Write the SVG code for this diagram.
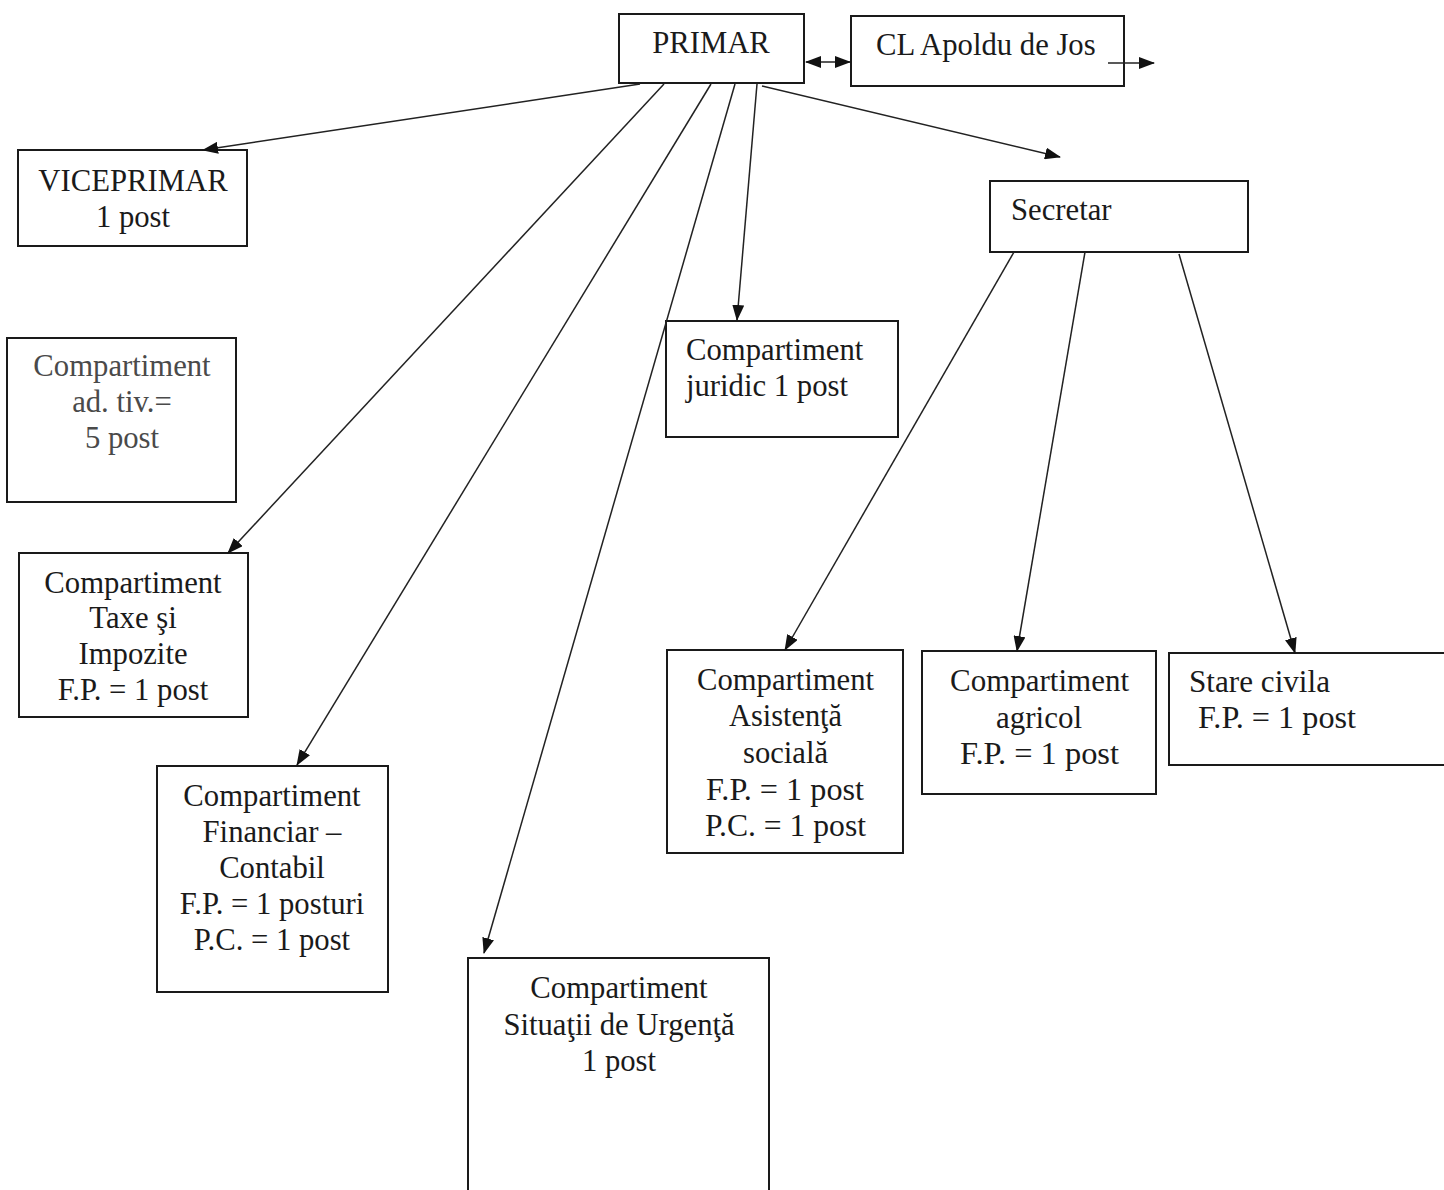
<svg xmlns="http://www.w3.org/2000/svg" width="1444" height="1190" viewBox="0 0 1444 1190">
<style>
.box{fill:#fff;stroke:#1a1a1a;stroke-width:2}
.t{font-family:"Liberation Serif","Times New Roman",serif;font-size:30.7px;fill:#1a1a1a}
.c{text-anchor:middle}
.g{fill:#4a4a4a}
.n{font-size:32px}
.ln{stroke:#222;stroke-width:1.5;fill:none}
</style>
<defs>
<marker id="ah" markerUnits="userSpaceOnUse" markerWidth="16" markerHeight="12" refX="15" refY="6" orient="auto">
<path d="M0,0 L16,6 L0,12 Z" fill="#111"/>
</marker>
<marker id="as" markerUnits="userSpaceOnUse" markerWidth="16" markerHeight="12" refX="1" refY="6" orient="auto">
<path d="M16,0 L0,6 L16,12 Z" fill="#111"/>
</marker>
</defs>
<rect width="1444" height="1190" fill="#fff"/>

<g id="primar">
<rect class="box" x="619" y="14" width="185" height="69"/>
<text class="t c" x="711" y="53">PRIMAR</text>
</g>

<g id="cl">
<rect class="box" x="851" y="16" width="273" height="70"/>
<text class="t" x="876" y="55">CL Apoldu de Jos</text>
</g>

<g id="viceprimar">
<rect class="box" x="18" y="150" width="229" height="96"/>
<text class="t c" x="133" y="191">VICEPRIMAR</text>
<text class="t c" x="133" y="227">1 post</text>
</g>

<g id="adtiv">
<rect class="box" x="7" y="338" width="229" height="164"/>
<text class="t c g" x="122" y="376">Compartiment</text>
<text class="t c g" x="122" y="412">ad. tiv.=</text>
<text class="t c g" x="122" y="448">5 post</text>
</g>

<g id="taxe">
<rect class="box" x="19" y="553" width="229" height="164"/>
<text class="t c" x="133" y="593">Compartiment</text>
<text class="t c" x="133" y="628">Taxe şi</text>
<text class="t c" x="133" y="664">Impozite</text>
<text class="t c" x="133" y="700">F.P. = 1 post</text>
</g>

<g id="financiar">
<rect class="box" x="157" y="766" width="231" height="226"/>
<text class="t c" x="272" y="806">Compartiment</text>
<text class="t c" x="272" y="842">Financiar –</text>
<text class="t c" x="272" y="878">Contabil</text>
<text class="t c" x="272" y="914">F.P. = 1 posturi</text>
<text class="t c" x="272" y="950">P.C. = 1 post</text>
</g>

<g id="urgenta">
<rect class="box" x="468" y="958" width="301" height="240"/>
<text class="t c" x="619" y="998">Compartiment</text>
<text class="t c" x="619" y="1035">Situaţii de Urgenţă</text>
<text class="t c" x="619" y="1071">1 post</text>
</g>

<g id="juridic">
<rect class="box" x="666" y="321" width="232" height="116"/>
<text class="t" x="686" y="360">Compartiment</text>
<text class="t" x="686" y="396">juridic 1 post</text>
</g>

<g id="secretar">
<rect class="box" x="990" y="181" width="258" height="71"/>
<text class="t" x="1011" y="220">Secretar</text>
</g>

<g id="asistenta">
<rect class="box" x="667" y="650" width="236" height="203"/>
<text class="t n" x="697" y="690" textLength="177" lengthAdjust="spacingAndGlyphs">Compartiment</text>
<text class="t n" x="729" y="726" textLength="113" lengthAdjust="spacingAndGlyphs">Asistenţă</text>
<text class="t n" x="743" y="763" textLength="85" lengthAdjust="spacingAndGlyphs">socială</text>
<text class="t n" x="706" y="800" textLength="158" lengthAdjust="spacingAndGlyphs">F.P. = 1 post</text>
<text class="t n" x="705" y="836" textLength="161" lengthAdjust="spacingAndGlyphs">P.C. = 1 post</text>
</g>

<g id="agricol">
<rect class="box" x="922" y="651" width="234" height="143"/>
<text class="t n" x="950" y="691" textLength="179" lengthAdjust="spacingAndGlyphs">Compartiment</text>
<text class="t n" x="996" y="728" textLength="86" lengthAdjust="spacingAndGlyphs">agricol</text>
<text class="t n" x="960" y="764" textLength="159" lengthAdjust="spacingAndGlyphs">F.P. = 1 post</text>
</g>

<g id="stare-civila">
<rect class="box" x="1169" y="653" width="290" height="112"/>
<text class="t n" x="1189" y="692" textLength="141" lengthAdjust="spacingAndGlyphs">Stare civila</text>
<text class="t n" x="1198" y="728" textLength="158" lengthAdjust="spacingAndGlyphs">F.P. = 1 post</text>
</g>

<g id="connectors">
<line class="ln" x1="806" y1="62" x2="850" y2="62" marker-start="url(#as)" marker-end="url(#ah)"/>
<line class="ln" x1="1108" y1="63" x2="1154" y2="63" marker-end="url(#ah)"/>
<line class="ln" x1="640" y1="84" x2="203" y2="150" marker-end="url(#ah)"/>
<line class="ln" x1="664" y1="84" x2="228" y2="553" marker-end="url(#ah)"/>
<line class="ln" x1="711" y1="84" x2="297" y2="765" marker-end="url(#ah)"/>
<line class="ln" x1="735" y1="84" x2="484" y2="953" marker-end="url(#ah)"/>
<line class="ln" x1="757" y1="84" x2="737" y2="320" marker-end="url(#ah)"/>
<line class="ln" x1="762" y1="86" x2="1060" y2="157" marker-end="url(#ah)"/>
<line class="ln" x1="1014" y1="252" x2="785" y2="650" marker-end="url(#ah)"/>
<line class="ln" x1="1085" y1="252" x2="1017" y2="651" marker-end="url(#ah)"/>
<line class="ln" x1="1179" y1="254" x2="1295" y2="653" marker-end="url(#ah)"/>
</g>
</svg>
